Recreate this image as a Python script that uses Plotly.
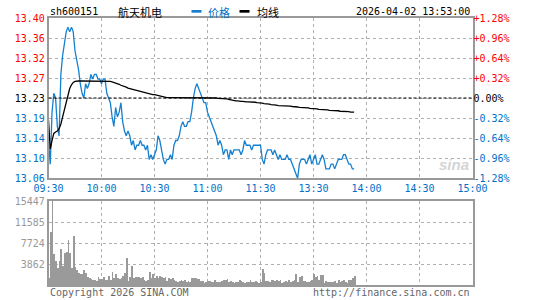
import plotly.graph_objects as go

# ---------------- data ----------------
prev_close = 13.23
stock_code = "sh600151"
stock_name = "航天机电"
timestamp = "2026-04-02 13:53:00"

# trading-minute index from 09:30 (11:30 and 13:00 share index 120)
minute_idx = list(range(174))

price = [
    13.14, 13.09, 13.20, 13.24, 13.23, 13.17, 13.15, 13.28, 13.32, 13.35,
    13.37, 13.38, 13.37, 13.38, 13.37, 13.33, 13.31, 13.29, 13.26, 13.24,
    13.23, 13.26, 13.25, 13.26, 13.28, 13.27, 13.28, 13.28, 13.27, 13.27,
    13.26, 13.27, 13.27, 13.24, 13.23, 13.22, 13.19, 13.17, 13.21, 13.19,
    13.20, 13.22, 13.18, 13.16, 13.15, 13.16, 13.15, 13.13, 13.14, 13.12,
    13.13, 13.13, 13.14, 13.13, 13.13, 13.12, 13.13, 13.10, 13.11, 13.10,
    13.11, 13.12, 13.15, 13.14, 13.12, 13.10, 13.09, 13.10, 13.10, 13.11,
    13.10, 13.13, 13.14, 13.14, 13.15, 13.17, 13.18, 13.17, 13.17, 13.18,
    13.18, 13.20, 13.23, 13.25, 13.26, 13.25, 13.24, 13.23, 13.22, 13.22,
    13.20, 13.19, 13.18, 13.17, 13.16, 13.15, 13.13, 13.14, 13.13, 13.11,
    13.12, 13.12, 13.10, 13.12, 13.11, 13.12, 13.12, 13.12, 13.12, 13.11,
    13.12, 13.14, 13.13, 13.13, 13.13, 13.12, 13.13, 13.13, 13.13, 13.13,
    13.13, 13.10, 13.09, 13.11, 13.12, 13.12, 13.12, 13.11, 13.12, 13.11,
    13.10, 13.11, 13.10, 13.10, 13.10, 13.11, 13.10, 13.10, 13.09, 13.08,
    13.07, 13.06, 13.09, 13.10, 13.10, 13.10, 13.09, 13.10, 13.11, 13.09,
    13.10, 13.11, 13.09, 13.09, 13.10, 13.11, 13.10, 13.08, 13.08, 13.08,
    13.09, 13.09, 13.08, 13.09, 13.10, 13.10, 13.10, 13.11, 13.11, 13.10,
    13.09, 13.09, 13.08, 13.08,
]

avg_price = [
    13.183, 13.122, 13.140, 13.155, 13.158, 13.160, 13.165, 13.175, 13.190, 13.205,
    13.222, 13.237, 13.250, 13.258, 13.263, 13.265, 13.266, 13.266, 13.266, 13.266,
    13.266, 13.266, 13.266, 13.266, 13.266, 13.266, 13.266, 13.266, 13.266, 13.266,
    13.266, 13.266, 13.266, 13.266, 13.265, 13.265, 13.264, 13.263, 13.262, 13.261,
    13.259, 13.257, 13.256, 13.254, 13.253, 13.251, 13.250, 13.248, 13.247, 13.246,
    13.245, 13.244, 13.243, 13.242, 13.241, 13.240, 13.240, 13.239, 13.238, 13.237,
    13.237, 13.236, 13.235, 13.234, 13.233, 13.232, 13.232, 13.231, 13.231, 13.231,
    13.231, 13.231, 13.231, 13.231, 13.231, 13.231, 13.231, 13.231, 13.231, 13.231,
    13.231, 13.231, 13.231, 13.231, 13.231, 13.231, 13.231, 13.231, 13.231, 13.231,
    13.231, 13.230, 13.230, 13.230, 13.230, 13.230, 13.229, 13.229, 13.229, 13.229,
    13.228, 13.228, 13.227, 13.226, 13.225, 13.225, 13.224, 13.224, 13.223, 13.223,
    13.223, 13.222, 13.222, 13.222, 13.222, 13.221, 13.221, 13.221, 13.220, 13.220,
    13.220, 13.219, 13.218, 13.218, 13.217, 13.217, 13.216, 13.216, 13.215, 13.215,
    13.214, 13.214, 13.214, 13.214, 13.214, 13.213, 13.213, 13.213, 13.212, 13.212,
    13.211, 13.211, 13.210, 13.210, 13.210, 13.209, 13.209, 13.209, 13.208, 13.208,
    13.207, 13.207, 13.207, 13.206, 13.206, 13.206, 13.205, 13.205, 13.205, 13.204,
    13.204, 13.204, 13.203, 13.203, 13.203, 13.202, 13.202, 13.202, 13.201, 13.201,
    13.201, 13.200, 13.200, 13.200,
]

volume = [
    1200, 9700, 15447, 5700, 4500, 3100, 4500, 6700, 3550, 5900,
    6100, 8300, 5900, 3100, 8950, 3400, 2800, 2200, 1950, 1950,
    2800, 2150, 1550, 1350, 1100, 860, 860, 800, 1400, 1100,
    1050, 1400, 980, 980, 1700, 980, 2300, 1200, 2100, 1200,
    1100, 1350, 1700, 2200, 5000, 740, 1400, 3550, 1200, 1400,
    1400, 1400, 1200, 1400, 920, 740, 920, 2300, 1350, 1950,
    1200, 1700, 1350, 1600, 1470, 1200, 1400, 740, 1350, 1100,
    1350, 860, 740, 610, 740, 980, 800, 860, 610, 740,
    610, 1350, 1350, 1350, 1100, 1100, 800, 680, 310, 610,
    740, 680, 610, 610, 860, 610, 550, 610, 740, 920,
    980, 1050, 610, 680, 490, 370, 550, 610, 860, 800,
    610, 370, 490, 610, 860, 610, 550, 740, 490, 430,
    610, 2950, 2200, 740, 800, 610, 860, 980, 740, 860,
    740, 980, 370, 490, 740, 490, 980, 610, 740, 920,
    1950, 610, 1470, 1700, 740, 800, 610, 610, 800, 980,
    1950, 1470, 1700, 860, 1840, 1840, 370, 740, 610, 610,
    610, 490, 740, 370, 980, 610, 740, 860, 490, 370,
    980, 860, 1200, 1600,
]

time_tick_pos = [0, 30, 60, 90, 120, 150, 180, 210, 240]
time_tick_text = ["09:30", "10:00", "10:30", "11:00", "11:30", "13:30", "14:00", "14:30", "15:00"]

pct_steps = [1.28, 0.96, 0.64, 0.32, 0.0, -0.32, -0.64, -0.96, -1.28]
price_tick_text = ["13.40", "13.36", "13.32", "13.27", "13.23", "13.19", "13.14", "13.10", "13.06"]
pct_tick_text = ["+1.28%", "+0.96%", "+0.64%", "+0.32%", "0.00%", "-0.32%", "-0.64%", "-0.96%", "-1.28%"]

vol_ticks = [3862, 7724, 11585, 15447]
vol_tick_text = ["3862", "7724", "11585", "15447"]

# ---------------- style ----------------
W, H = 545, 300
RED = "#ff0000"
BLUE_TXT = "#0070c8"
LINE_BLUE = "#1580d0"
GRID = "#b0b0b0"
BORDER = "#999999"
MONO = "DejaVu Sans Mono"
CJK = "Noto Sans CJK SC"

def px_x(p):
    return p / W

def px_y(p):
    return 1 - p / H

X_L, X_R = px_x(48.5), px_x(472.5)
MAIN_DOM = [px_y(178), px_y(18)]
VOL_DOM = [px_y(285), px_y(201)]

tick_vals = [prev_close * (1 + p / 100) for p in pct_steps]
y_lo = prev_close * (1 + min(pct_steps) / 100)
y_hi = prev_close * (1 + max(pct_steps) / 100)

def col_for(p):
    if p > 0:
        return RED
    if p < 0:
        return BLUE_TXT
    return "#000000"

left_text = [f'<span style="color:{col_for(p)}">{t}</span>' for p, t in zip(pct_steps, price_tick_text)]
right_text = [f'<span style="color:{col_for(p)}">{t}</span>' for p, t in zip(pct_steps, pct_tick_text)]

fig = go.Figure()

fig.add_trace(go.Scatter(x=minute_idx, y=price, mode="lines",
                         line=dict(color=LINE_BLUE, width=1.3), xaxis="x", yaxis="y",
                         hoverinfo="skip", showlegend=False))
fig.add_trace(go.Scatter(x=minute_idx, y=avg_price, mode="lines",
                         line=dict(color="#000000", width=1.3), xaxis="x", yaxis="y",
                         hoverinfo="skip", showlegend=False))
# carrier trace for the right-hand percent axis
fig.add_trace(go.Scatter(x=minute_idx, y=price, mode="lines", opacity=0,
                         line=dict(width=0), xaxis="x", yaxis="y3",
                         hoverinfo="skip", showlegend=False))
fig.add_trace(go.Bar(x=minute_idx, y=volume, width=0.45, marker=dict(color="#9a9a9a", line=dict(width=0)),
                     xaxis="x2", yaxis="y2", hoverinfo="skip", showlegend=False))

axis_common = dict(showline=True, mirror=True, linecolor=BORDER, linewidth=1.5,
                   zeroline=False, ticks="", showgrid=True, gridcolor=GRID,
                   griddash="dot", gridwidth=1, automargin=False)

fig.update_layout(
    template="none",
    width=W, height=H,
    margin=dict(l=0, r=0, t=0, b=0),
    paper_bgcolor="white", plot_bgcolor="white",
    font=dict(family=MONO, size=10, color="#000"),
    bargap=0,
    xaxis=dict(domain=[X_L, X_R], anchor="y", range=[0, 240],
               tickmode="array", tickvals=time_tick_pos, ticktext=time_tick_text,
               tickfont=dict(family=MONO, size=10, color=BLUE_TXT), **axis_common),
    yaxis=dict(domain=MAIN_DOM, anchor="x", range=[y_lo, y_hi],
               tickmode="array", tickvals=tick_vals, ticktext=left_text,
               tickfont=dict(family=MONO, size=10), **axis_common),
    yaxis3=dict(overlaying="y", side="right", anchor="x", range=[y_lo, y_hi],
                tickmode="array", tickvals=tick_vals, ticktext=right_text,
                tickfont=dict(family=MONO, size=10), showgrid=False, zeroline=False,
                showline=False, ticks="", automargin=False),
    xaxis2=dict(domain=[X_L, X_R], anchor="y2", range=[0, 240],
                tickmode="array", tickvals=time_tick_pos, showticklabels=False,
                **axis_common),
    yaxis2=dict(domain=VOL_DOM, anchor="x2", range=[0, max(vol_ticks)],
                tickmode="array", tickvals=vol_ticks, ticktext=vol_tick_text,
                tickfont=dict(family=MONO, size=10, color="#999999"), **axis_common),
)

# previous close dashed line
fig.add_shape(type="line", xref="paper", yref="y", x0=X_L, x1=X_R,
              y0=prev_close, y1=prev_close, line=dict(color="#000", width=1, dash="3px,2px"))

# header
hy = px_y(11.5)
fig.add_annotation(x=px_x(47.5), y=hy, xref="paper", yref="paper", text=stock_code,
                   showarrow=False, xanchor="left", yanchor="middle",
                   font=dict(family=MONO, size=10, color="#000"))
fig.add_annotation(x=px_x(115.5), y=hy, xref="paper", yref="paper", text=stock_name,
                   showarrow=False, xanchor="left", yanchor="middle",
                   font=dict(family=CJK, size=11, color="#000"))
fig.add_shape(type="rect", xref="paper", yref="paper", x0=px_x(191.5), x1=px_x(201.5),
              y0=px_y(12.7), y1=px_y(10), fillcolor=LINE_BLUE, line=dict(width=0))
fig.add_annotation(x=px_x(206), y=hy, xref="paper", yref="paper", text="价格",
                   showarrow=False, xanchor="left", yanchor="middle",
                   font=dict(family=CJK, size=11, color=BLUE_TXT))
fig.add_shape(type="rect", xref="paper", yref="paper", x0=px_x(239.5), x1=px_x(249.5),
              y0=px_y(12.7), y1=px_y(10), fillcolor="#000", line=dict(width=0))
fig.add_annotation(x=px_x(254.5), y=hy, xref="paper", yref="paper", text="均线",
                   showarrow=False, xanchor="left", yanchor="middle",
                   font=dict(family=CJK, size=11, color="#000"))
fig.add_annotation(x=px_x(471.5), y=hy, xref="paper", yref="paper", text=timestamp,
                   showarrow=False, xanchor="right", yanchor="middle",
                   font=dict(family=MONO, size=10, color="#000"))

# watermark
fig.add_annotation(x=px_x(471), y=px_y(164), xref="paper", yref="paper",
                   text="<b><i>sina</i></b>", showarrow=False, xanchor="right", yanchor="middle",
                   font=dict(family="Liberation Sans", size=15, color="#d4d4d4"))

# footer
fy = px_y(292.5)
fig.add_annotation(x=px_x(47.5), y=fy, xref="paper", yref="paper", text="Copyright 2026 SINA.COM",
                   showarrow=False, xanchor="left", yanchor="middle",
                   font=dict(family=MONO, size=10, color="#666666"))
fig.add_annotation(x=px_x(472), y=fy, xref="paper", yref="paper", text="http://finance.sina.com.cn",
                   showarrow=False, xanchor="right", yanchor="middle",
                   font=dict(family=MONO, size=10, color="#666666"))

fig.write_html("out.html")
